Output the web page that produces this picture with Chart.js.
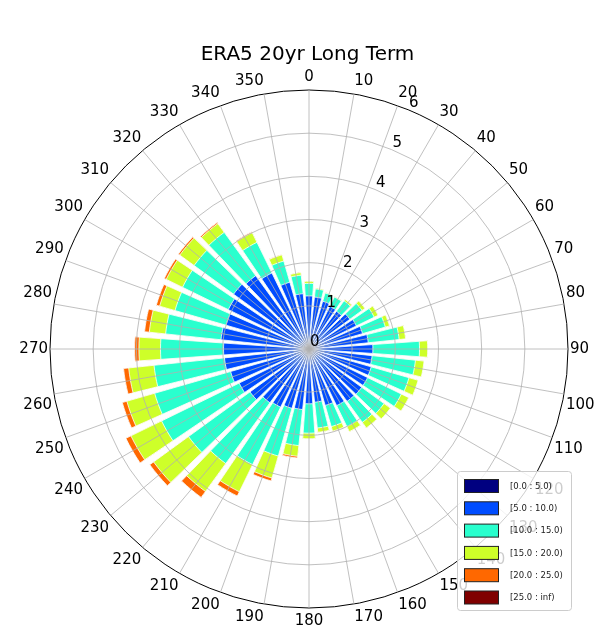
<!DOCTYPE html>
<html>
<head>
<meta charset="utf-8">
<title>ERA5 20yr Long Term</title>
<script src="https://cdn.jsdelivr.net/npm/chart.js@4/dist/chart.umd.min.js"></script>
<style>
    html, body { margin: 0; padding: 0; background: #fff; }
    #wrap { width: 606px; height: 633px; }
</style>
</head>
<body>
<div id="wrap"><canvas id="roseChart" width="606" height="633"></canvas></div>
<script>
// wind directions (deg), one bar per 10 degrees
const directions = [0, 10, 20, 30, 40, 50, 60, 70, 80, 90, 100, 110, 120, 130, 140, 150, 160, 170,
    180, 190, 200, 210, 220, 230, 240, 250, 260, 270, 280, 290, 300, 310, 320, 330, 340, 350];

const binLabels = ['[0.0 : 5.0)', '[5.0 : 10.0)', '[10.0 : 15.0)', '[15.0 : 20.0)', '[20.0 : 25.0)', '[25.0 : inf)'];
const binColors = ['#000080', '#004cff', '#29ffce', '#ceff29', '#ff6800', '#800000'];

// frequency (%) per speed bin, per direction
const speed0to5 = [0, 0, 0, 0, 0, 0, 0, 0, 0, 0, 0, 0, 0, 0, 0, 0, 0, 0,
    0, 0, 0, 0, 0, 0, 0, 0, 0, 0, 0, 0, 0, 0, 0, 0, 0, 0];
const speed5to10 = [1.23, 1.21, 1.15, 1.10, 1.08, 1.17, 1.22, 1.29, 1.38, 1.48, 1.47, 1.50, 1.51, 1.51, 1.50, 1.46, 1.36, 1.24,
    1.27, 1.41, 1.43, 1.50, 1.54, 1.69, 1.80, 1.89, 1.97, 1.98, 2.05, 2.00, 2.08, 2.16, 2.10, 1.96, 1.61, 1.29];
const speed10to15 = [0.29, 0.19, 0.20, 0.24, 0.30, 0.35, 0.46, 0.55, 0.72, 1.08, 1.01, 0.91, 0.87, 0.64, 0.60, 0.54, 0.51, 0.60,
    0.68, 0.84, 1.15, 1.48, 1.74, 1.76, 2.00, 1.83, 1.64, 1.46, 1.29, 1.23, 1.18, 1.13, 1.24, 0.79, 0.51, 0.43];
const speed15to20 = [0.05, 0.02, 0.01, 0.01, 0.04, 0.08, 0.10, 0.10, 0.15, 0.19, 0.20, 0.22, 0.19, 0.18, 0.16, 0.13, 0.11, 0.10,
    0.13, 0.25, 0.53, 0.70, 0.80, 1.00, 0.79, 0.67, 0.59, 0.50, 0.38, 0.37, 0.42, 0.41, 0.25, 0.25, 0.15, 0.06];
const speed20to25 = [0, 0, 0, 0, 0, 0, 0, 0, 0, 0, 0, 0, 0, 0, 0, 0, 0.01, 0,
    0, 0.04, 0.07, 0.11, 0.17, 0.11, 0.13, 0.11, 0.12, 0.10, 0.11, 0.08, 0.05, 0.04, 0.03, 0.02, 0.01, 0];
const speed25up = [0, 0, 0, 0, 0, 0, 0, 0, 0, 0, 0, 0, 0, 0, 0, 0, 0, 0,
    0, 0, 0, 0, 0, 0, 0, 0, 0, 0, 0, 0, 0, 0, 0, 0, 0, 0];

const radialTicks = [0, 1, 2, 3, 4, 5, 6];

const bins = [speed0to5, speed5to10, speed10to15, speed15to20, speed20to25, speed25up];

// each direction gets a gap slot then a bar slot (5 deg grid, bars 8 deg wide)
const barAngle = 8;
const gapAngle = 2;
const slotLabels = [];
directions.forEach(d => { slotLabels.push(''); slotLabels.push(String(d)); });

// stacked look: every bin drawn as the running total, smaller totals on top
let running = directions.map(() => 0);
const datasets = bins.map((bin, b) => {
    running = running.map((v, i) => v + bin[i]);
    const slots = [];
    running.forEach(v => { slots.push(0); slots.push(v); });
    return {
        label: binLabels[b],
        data: slots,
        backgroundColor: binColors[b],
        borderColor: '#ffffff',
        borderWidth: ctx => (ctx.raw > 0 ? 0.8 : 0),
        angle: ctx => (ctx.dataIndex === 0 ? gapAngle / 2 : (ctx.dataIndex % 2 ? barAngle : gapAngle))
    };
});

// radial tick labels sit along 22.5 deg, like matplotlib
const radialTickLabels = {
    id: 'radialTickLabels',
    afterDraw(chart) {
        const scale = chart.scales.r;
        const ctx = chart.ctx;
        const a = 22.5 * Math.PI / 180;
        ctx.save();
        ctx.font = '15px "DejaVu Sans"';
        ctx.fillStyle = '#000';
        ctx.textAlign = 'left';
        ctx.textBaseline = 'bottom';
        radialTicks.forEach(v => {
            const d = scale.getDistanceFromCenterForValue(v);
            const x = scale.xCenter + d * Math.sin(a);
            const y = scale.yCenter - d * Math.cos(a);
            ctx.fillText(String(v), x + 1, y + 1);
        });
        ctx.restore();
    }
};

const roseLegend = {
    id: 'roseLegend',
    afterDraw(chart) {
        const ctx = chart.ctx;
        const left = 457.5, top = 471.5, width = 114, height = 139;
        ctx.save();
        ctx.beginPath();
        ctx.roundRect(left, top, width, height, 3);
        ctx.fillStyle = 'rgba(255,255,255,0.8)';
        ctx.fill();
        ctx.strokeStyle = '#cccccc';
        ctx.lineWidth = 1;
        ctx.stroke();

        ctx.font = '8.5px "DejaVu Sans"';
        ctx.textAlign = 'left';
        ctx.textBaseline = 'middle';
        chart.data.datasets.forEach((ds, i) => {
            const y = top + 8 + i * 22.3;
            ctx.fillStyle = ds.backgroundColor;
            ctx.fillRect(464.5, y, 34, 13);
            ctx.strokeStyle = '#222';
            ctx.lineWidth = 1;
            ctx.strokeRect(464.5, y, 34, 13);
            ctx.fillStyle = '#222';
            ctx.fillText(ds.label, 510, y + 7);
        });
        ctx.restore();
    }
};

Chart.defaults.font.family = '"DejaVu Sans", sans-serif';

new Chart(document.getElementById('roseChart'), {
    type: 'polarArea',
    data: {
        labels: slotLabels,
        datasets: datasets
    },
    options: {
        responsive: false,
        animation: false,
        events: [],
        layout: {
            padding: { top: 33, left: 17.3, right: 8.3, bottom: 0 }
        },
        plugins: {
            legend: { display: false },
            tooltip: { enabled: false },
            title: {
                display: true,
                text: 'ERA5 20yr Long Term',
                color: '#000',
                font: { size: 20, weight: 'normal' },
                padding: { top: 10, bottom: -1 }
            }
        },
        scales: {
            r: {
                min: 0,
                max: 6,
                startAngle: -5,
                ticks: { display: false, stepSize: 1 },
                grid: {
                    z: 1,
                    circular: true,
                    color: ctx => (ctx.tick && ctx.tick.value === 6 ? '#000' : '#b0b0b0'),
                    lineWidth: ctx => (ctx.tick && ctx.tick.value === 6 ? 1 : 0.8)
                },
                angleLines: {
                    display: true,
                    color: '#b0b0b0',
                    lineWidth: ctx => (ctx.index % 2 ? 0.8 : 0)
                },
                pointLabels: {
                    display: true,
                    color: '#000',
                    padding: 2,
                    font: { size: 15, lineHeight: 1.4667 }
                }
            }
        }
    },
    plugins: [radialTickLabels, roseLegend]
});
</script>
</body>
</html>
